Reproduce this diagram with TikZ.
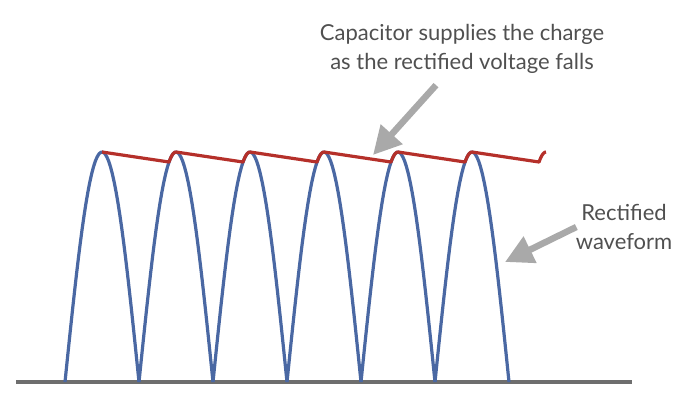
\documentclass[tikz,border=0pt]{standalone}
\usepackage{fontspec}
\setmainfont{Lato}
\usetikzlibrary{arrows.meta}
\definecolor{wavblue}{HTML}{4A68A3}
\definecolor{capred}{HTML}{B5302A}
\definecolor{pointgray}{HTML}{A9A9A9}
\definecolor{textgray}{HTML}{505050}
\definecolor{axisgray}{HTML}{6E6E6E}
\begin{document}
\begin{tikzpicture}[x=1pt,y=-1pt,
    wave/.style={wavblue, line width=3.2pt, line join=round},
    ripple/.style={capred, line width=3.2pt, line join=round},
    pointer/.style={pointgray, line width=6.5pt, -{Triangle[length=28pt,width=28pt]}},
    notetext/.style={textgray, font=\fontsize{22}{29}\selectfont, align=center}]
\useasboundingbox (0,0) rectangle (680,405);
\draw[axisgray, line width=3.5pt] (16,382) -- (632,382);
% rectified arches
\foreach \z in {65,139,...,435}
  \draw[wave] plot[domain=0:74, samples=40] ({\z+\x}, {382-230*sin(\x*180/74)});
% capacitor ripple
\foreach \z in {65,139,...,435}
  \draw[ripple] ({\z+37},152) -- ({\z+104},162)
    -- plot[domain=104:111, samples=8] ({\z+\x}, {382-230*sin((\x-74)*180/74)});
\node[notetext] (capnote) at (462,49) {Capacitor supplies the charge\\as the rectified voltage falls};
\node[notetext] (wavenote) at (624,227) {Rectified\\waveform};
\coordinate (captip) at (373,155);
\coordinate (wavetip) at (505,262);
\draw[pointer] ([shift={(-26,8)}]capnote.south) -- (captip);
\draw[pointer] ([xshift=4pt]wavenote.west) -- (wavetip);
\end{tikzpicture}
\end{document}
